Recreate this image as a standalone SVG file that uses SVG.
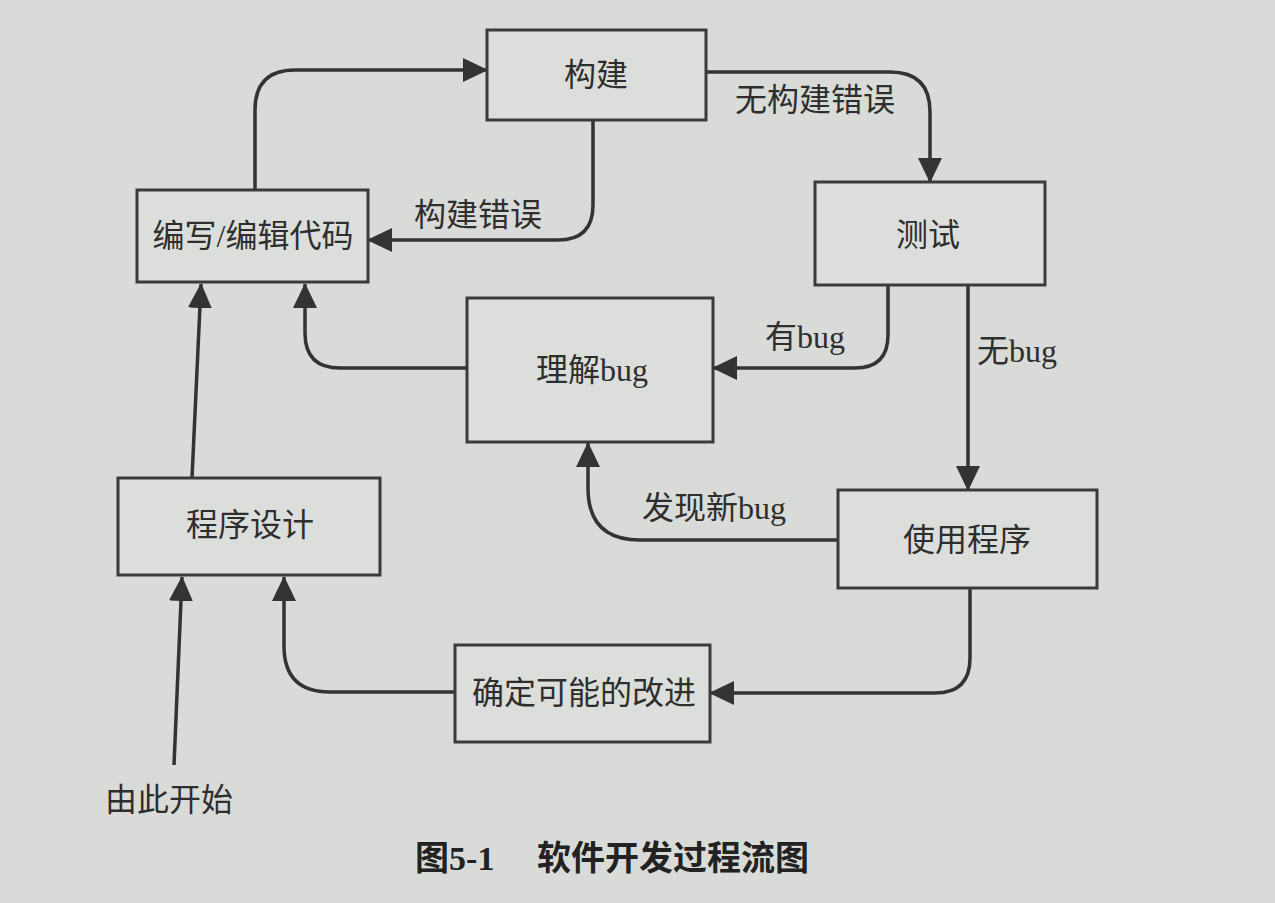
<svg xmlns="http://www.w3.org/2000/svg" width="1275" height="903" viewBox="0 0 1275 903">
<style>
.bg{fill:#d9dbd8}
.box{fill:#dcdedb;stroke:#3a3a3a;stroke-width:3}
.t{font-family:"Liberation Serif","Noto Sans CJK SC",serif;font-size:32px;fill:#2e2e2e;text-anchor:middle;dominant-baseline:central}
.l{font-family:"Liberation Serif","Noto Sans CJK SC",serif;font-size:32px;fill:#2e2e2e;dominant-baseline:central}
.cap{font-family:"Liberation Serif","Noto Sans CJK SC",serif;font-size:34px;font-weight:bold;fill:#222;text-anchor:middle;dominant-baseline:central}
.c{fill:none;stroke:#333;stroke-width:3.5;marker-end:url(#ah)}
</style>
<defs>
<marker id="ah" markerUnits="userSpaceOnUse" markerWidth="26" markerHeight="26" viewBox="0 0 26 26" refX="24" refY="13" orient="auto">
<path d="M0,1 L25,13 L0,25 Z" fill="#333"/>
</marker>
</defs>
<rect class="bg" x="0" y="0" width="1275" height="903"/>

<g id="connectors">
<path class="c" d="M255,190 V110 Q255,70 295,70 H487"/>
<path class="c" d="M593,120 V205 Q593,240 558,240 H368"/>
<path class="c" d="M706,72 H890 Q930,72 930,112 V182"/>
<path class="c" d="M888,285 V335 Q888,368 855,368 H713"/>
<path class="c" d="M968,285 V490"/>
<path class="c" d="M467,368 H340 Q305,368 305,333 V284"/>
<path class="c" d="M838,540 H640 Q588,540 588,488 V443"/>
<path class="c" d="M192,478 L201,284"/>
<path class="c" d="M970,588 V658 Q970,693 935,693 H710"/>
<path class="c" d="M455,692 H330 Q284,692 284,646 V577"/>
<path class="c" d="M174,765 L182,577"/>
</g>

<g id="n-build"><rect class="box" x="487" y="30" width="219" height="90"/><text class="t" x="596" y="75">构建</text></g>
<g id="n-edit"><rect class="box" x="137" y="190" width="231" height="92"/><text class="t" x="253" y="236">编写/编辑代码</text></g>
<g id="n-test"><rect class="box" x="815" y="182" width="230" height="103"/><text class="t" x="928" y="235">测试</text></g>
<g id="n-understand"><rect class="box" x="467" y="298" width="246" height="144"/><text class="t" x="592" y="370">理解bug</text></g>
<g id="n-design"><rect class="box" x="118" y="478" width="262" height="97"/><text class="t" x="250" y="525">程序设计</text></g>
<g id="n-use"><rect class="box" x="838" y="490" width="259" height="98"/><text class="t" x="967" y="540">使用程序</text></g>
<g id="n-improve"><rect class="box" x="455" y="645" width="255" height="97"/><text class="t" x="584" y="693">确定可能的改进</text></g>

<g id="labels">
<text class="l" x="414" y="215">构建错误</text>
<text class="l" x="735" y="100">无构建错误</text>
<text class="l" x="765" y="337">有bug</text>
<text class="l" x="977" y="351">无bug</text>
<text class="l" x="642" y="508">发现新bug</text>
<text class="l" x="105" y="800">由此开始</text>
</g>
<text class="cap" x="612" y="858">图5-1　 软件开发过程流图</text>
</svg>
